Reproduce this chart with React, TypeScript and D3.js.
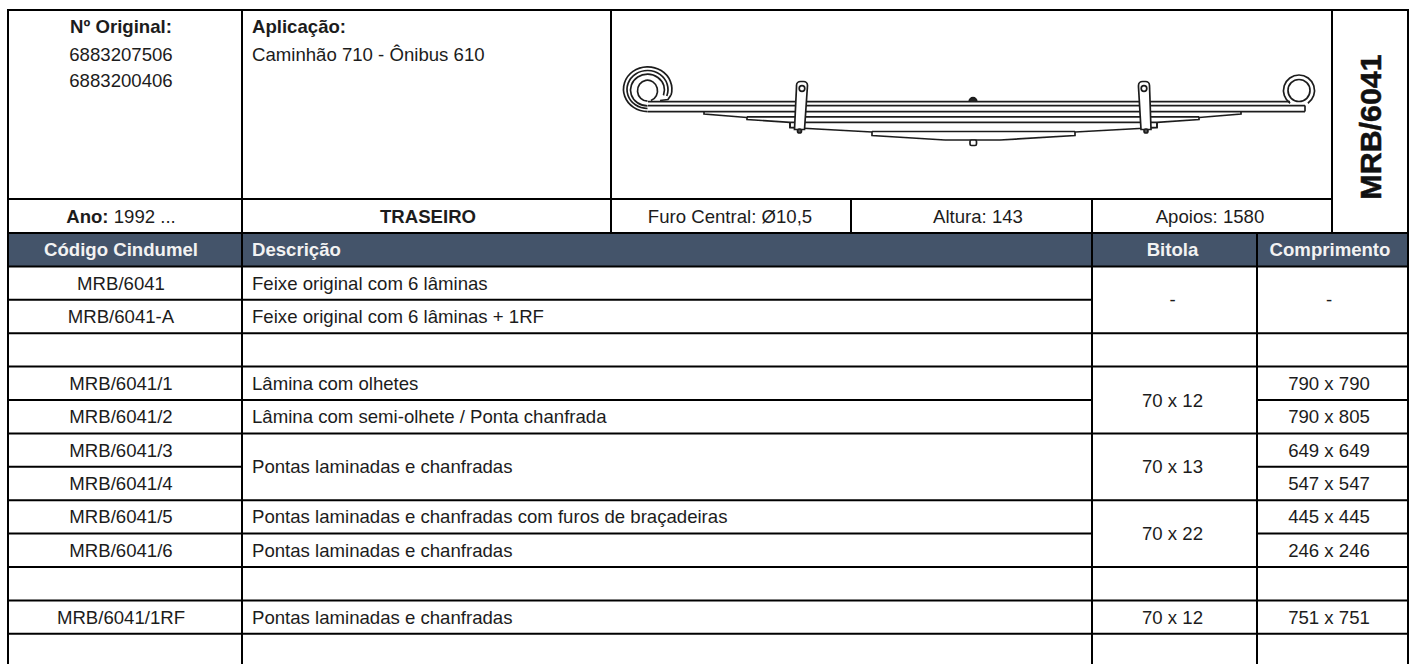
import React, { useEffect, useRef } from "react";
import * as d3 from "d3";

// table contents, null = merged with the row above
const headers = ["Código Cindumel", "Descrição", "Bitola", "Comprimento"];
const codes = ["MRB/6041", "MRB/6041-A", "", "MRB/6041/1", "MRB/6041/2", "MRB/6041/3", "MRB/6041/4", "MRB/6041/5", "MRB/6041/6", "", "MRB/6041/1RF", ""];
const descriptions = [
  "Feixe original com 6 lâminas",
  "Feixe original com 6 lâminas + 1RF",
  "",
  "Lâmina com olhetes",
  "Lâmina com semi-olhete / Ponta chanfrada",
  "Pontas laminadas e chanfradas",
  null,
  "Pontas laminadas e chanfradas com furos de braçadeiras",
  "Pontas laminadas e chanfradas",
  "",
  "Pontas laminadas e chanfradas",
  "",
];
const bitolas = ["-", null, "", "70 x 12", null, "70 x 13", null, "70 x 22", null, "", "70 x 12", ""];
const comprimentos = ["-", null, "", "790 x 790", "790 x 805", "649 x 649", "547 x 547", "445 x 445", "246 x 246", "", "751 x 751", ""];
const originais = ["6883207506", "6883200406"];
const aplicacao = "Caminhão 710 - Ônibus 610";
const infoCells = ["Furo Central: Ø10,5", "Altura: 143", "Apoios: 1580"];

// spring drawing, in drawing units
const leafLines = [
  [[648, 101.7], [1290, 101.7]],
  [[648, 105.6], [1305, 105.6]],
  [[648, 111.6], [1305, 111.6]],
  [[747, 116.8], [1199, 116.8]],
  [[790, 122.3], [1157, 122.3]],
  [[872, 131.5], [1075, 131.5]],
  [[945, 140], [1000, 140]],
];
const taperLines = [
  [[704, 111.6], [704, 114], [747, 117.5]],
  [[747, 116.8], [747, 119.5], [790, 122.3]],
  [[790, 122.3], [790, 127.5], [872, 132]],
  [[872, 131.5], [872, 135.5], [945, 140]],
  [[1241, 111.6], [1241, 114], [1199, 117.5]],
  [[1199, 116.8], [1199, 119.5], [1157, 122.3]],
  [[1157, 122.3], [1157, 127.5], [1075, 132]],
  [[1075, 131.5], [1075, 135.5], [1000, 140]],
  [[1305, 105.6], [1305, 111.6]],
  [[790, 122.3], [790, 127.5], [795, 127.5]],
  [[1157, 122.3], [1157, 127.5], [1151, 127.5]],
  [[660, 100.5], [668, 99.5], [671, 95]],
];

const W = 1410;
const H = 664;
const FONT = "'Liberation Sans', Arial, sans-serif";
const FS = 18.6;
const INK = "#1c1c1c";

function App() {
  const ref = useRef<SVGSVGElement>(null);

  useEffect(() => {
    drawChart();
  }, []);

  function drawChart() {
    const svg = d3.select(ref.current);
    svg.selectAll("*").remove();

    const rowY = d3.scaleLinear().domain([0, 1]).range([233, 266.4]);
    const colLeft = [8, 242, 1092, 1257];
    const colRight = [242, 1092, 1257, 1408];

    const text = (x: number, y: number, s: string, anchor = "middle", bold = false, fill = INK) =>
      svg
        .append("text")
        .attr("x", x)
        .attr("y", y)
        .attr("text-anchor", anchor)
        .attr("font-family", FONT)
        .attr("font-size", FS)
        .attr("font-weight", bold ? "bold" : "normal")
        .attr("fill", fill)
        .text(s);

    const rule = (x1: number, y1: number, x2: number, y2: number) =>
      svg.append("line").attr("x1", x1).attr("y1", y1).attr("x2", x2).attr("y2", y2)
        .attr("stroke", "#000").attr("stroke-width", 2);

    // header band
    svg.append("rect").attr("x", 8).attr("y", rowY(0)).attr("width", 1400).attr("height", rowY(1) - rowY(0)).attr("fill", "#44546a");

    // top block
    text(121, 33, "Nº Original:", "middle", true);
    originais.forEach((d, i) => text(121, 60.5 + i * 26.5, d));
    text(252, 33, "Aplicação:", "start", true);
    text(252, 60.5, aplicacao, "start");

    const ano = text(121, 222.5, "", "middle");
    ano.append("tspan").attr("font-weight", "bold").text("Ano:");
    ano.append("tspan").text(" 1992 ...");
    text(428, 222.5, "TRASEIRO", "middle", true);
    text(730, 222.5, infoCells[0]);
    text(978, 222.5, infoCells[1]);
    text(1210, 222.5, infoCells[2]);

    svg.append("text")
      .attr("transform", "translate(1381,127) rotate(-90)")
      .attr("text-anchor", "middle")
      .attr("font-family", FONT)
      .attr("font-size", 30.4)
      .attr("font-weight", "bold")
      .attr("fill", "#111")
      .attr("stroke", "#111")
      .attr("stroke-width", 0.5)
      .text("MRB/6041");

    // column headers
    text(121, 255.5, headers[0], "middle", true, "#f2f2f2");
    text(252, 255.5, headers[1], "start", true, "#f2f2f2");
    text(1172.5, 255.5, headers[2], "middle", true, "#f2f2f2");
    text(1330, 255.5, headers[3], "middle", true, "#f2f2f2");

    // body cells, merged ones get centred over their span
    const columns = [codes, descriptions, bitolas, comprimentos];
    const textX = [121, 252, 1172.5, 1329];
    const anchors = ["middle", "start", "middle", "middle"];
    columns.forEach((col, c) => {
      col.forEach((d, i) => {
        if (d === null) return;
        let span = 1;
        while (col[i + span] === null) span++;
        if (d) text(textX[c], (rowY(i + 1) + rowY(i + 1 + span)) / 2 + 6.5, d, anchors[c]);
        // rule under the cell
        rule(colLeft[c], rowY(i + 1 + span), colRight[c], rowY(i + 1 + span));
      });
    });

    // frame
    rule(7, 10, 1409, 10);
    rule(7, 199, 1333, 199);
    rule(7, rowY(0), 1409, rowY(0));
    rule(7, rowY(1), 1409, rowY(1));
    rule(8, 9, 8, H);
    rule(1408, 9, 1408, H);
    rule(242, 9, 242, H);
    rule(611, 9, 611, rowY(0));
    rule(851, 199, 851, rowY(0));
    rule(1092, 199, 1092, H);
    rule(1257, rowY(0), 1257, H);
    rule(1332, 9, 1332, rowY(0));

    drawSpring(svg);
  }

  function drawSpring(svg: any) {
    const defs = svg.append("defs");
    defs.append("filter").attr("id", "soft").append("feGaussianBlur").attr("stdDeviation", 0.4);

    const g = svg.append("g").attr("filter", "url(#soft)").attr("fill", "none").attr("stroke", "#1e1e1e").attr("stroke-width", 1.7);
    const line = d3.line();

    leafLines.forEach((d) => g.append("path").attr("d", line(d as any)));
    taperLines.forEach((d) => g.append("path").attr("d", line(d as any)));

    // wrapped eyes, elliptical arcs given in degrees clockwise from +x
    const eyeArc = (cx: number, cy: number, rx: number, ry: number, a0: number, a1: number) => {
      const [p0, p1] = [a0, a1].map((a) => (a * Math.PI) / 180);
      const mid = (p0 + p1) / 2;
      const pt = (t: number) => `${cx + rx * Math.cos(t)} ${cy + ry * Math.sin(t)}`;
      return `M${pt(p0)}A${rx} ${ry} 0 0 1 ${pt(mid)}A${rx} ${ry} 0 0 1 ${pt(p1)}`;
    };

    // left eye
    g.append("path").attr("d", eyeArc(647.5, 90.7, 10, 10.5, 90, 430));
    g.append("path").attr("d", eyeArc(647.5, 90, 17, 15.8, 90, 380));
    g.append("path").attr("d", eyeArc(647.5, 89.5, 20.5, 19, 90, 380));
    g.append("path").attr("d", eyeArc(647.7, 89.2, 24.2, 22.4, 90, 375));

    // right eye
    g.append("circle").attr("cx", 1299).attr("cy", 90.5).attr("r", 11);
    g.append("path").attr("d", eyeArc(1299, 90.5, 15.5, 15.5, 125, 415));

    // clamps
    const clamps = [
      { x1: 802, x2: 799.5 },
      { x1: 1144, x2: 1146 },
    ];
    clamps.forEach(({ x1, x2 }) => {
      const p = d3.path();
      p.moveTo(x1 - 5.5, 87);
      p.arcTo(x1 - 5.5, 81.5, x1, 81.5, 4);
      p.arcTo(x1 + 5.5, 81.5, x1 + 5.5, 87, 4);
      p.lineTo(x2 + 5, 129.5);
      p.lineTo(x2 - 5, 129.5);
      p.closePath();
      g.append("path").attr("d", p.toString()).attr("fill", "#fff");
      g.append("circle").attr("cx", x1).attr("cy", 88.5).attr("r", 2.8).attr("fill", "#fff");
      g.append("circle").attr("cx", x2).attr("cy", 131).attr("r", 2).attr("fill", "#555");
    });

    // centre bolt
    const head = d3.path();
    head.arc(973, 101.5, 3.8, Math.PI, 2 * Math.PI);
    g.append("path").attr("d", head.toString()).attr("fill", "#222");
    g.append("rect").attr("x", 970).attr("y", 140).attr("width", 6.5).attr("height", 5.5).attr("rx", 1.5).attr("fill", "#fff");
  }

  return <svg ref={ref} width={W} height={H} style={{ position: "absolute", left: 0, top: 0, background: "#fff" }} />;
}

export default App;
